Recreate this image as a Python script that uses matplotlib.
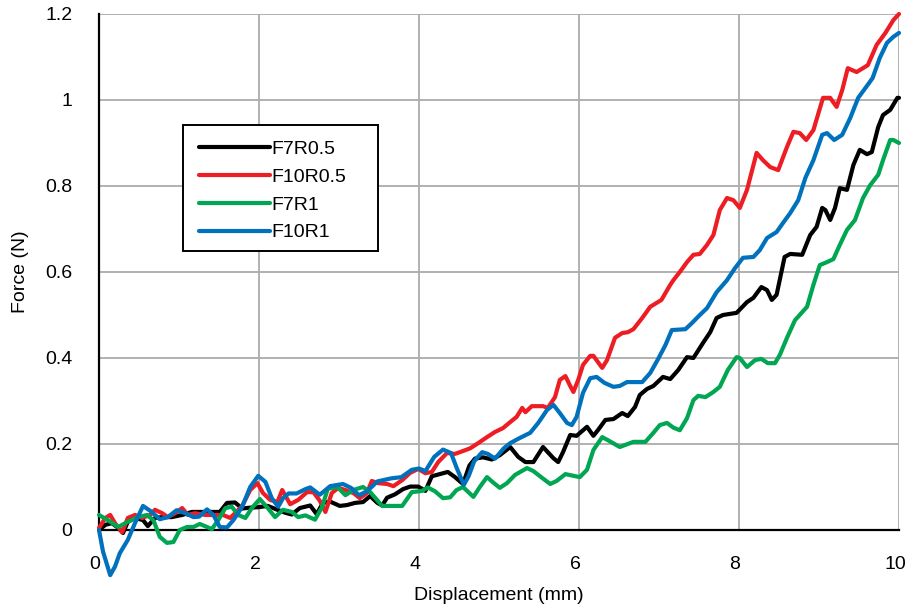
import matplotlib
matplotlib.use("Agg")
import matplotlib.pyplot as plt
import matplotlib.transforms as mtransforms
from matplotlib.patches import Rectangle

plt.rcParams['font.family'] = ['Liberation Sans', 'DejaVu Sans']

labels = ["F7R0.5", "F10R0.5", "F7R1", "F10R1"]
colors = ["#000000", "#EE1D24", "#00A651", "#0071BC"]

x_f7r05 = [0, 0.08, 0.16, 0.24, 0.3, 0.36, 0.45, 0.55, 0.61, 0.7, 0.79, 0.91, 1.04, 1.16, 1.29, 1.41, 1.51,
           1.6, 1.7, 1.79, 1.89, 1.99, 2.11, 2.23, 2.33, 2.41, 2.51, 2.64, 2.72, 2.8, 2.89, 3.01, 3.1, 3.2,
           3.3, 3.39, 3.48, 3.54, 3.6, 3.7, 3.8, 3.89, 3.99, 4.08, 4.16, 4.26, 4.36, 4.45, 4.55, 4.63, 4.7,
           4.8, 4.91, 5.01, 5.14, 5.24, 5.33, 5.43, 5.55, 5.61, 5.68, 5.74, 5.8, 5.89, 5.97, 6.1, 6.18, 6.24,
           6.33, 6.43, 6.54, 6.61, 6.7, 6.76, 6.85, 6.93, 7.05, 7.14, 7.24, 7.35, 7.43, 7.55, 7.64, 7.72, 7.8,
           7.97, 8.1, 8.18, 8.28, 8.35, 8.41, 8.47, 8.57, 8.64, 8.79, 8.89, 8.97, 9.04, 9.08, 9.14, 9.2, 9.26,
           9.35, 9.43, 9.51, 9.6, 9.66, 9.74, 9.8, 9.89, 9.98, 10.0]
y_f7r05 = [0, 0.012, 0.016, 0.005, -0.007, 0.019, 0.028, 0.023, 0.009, 0.028, 0.03, 0.03, 0.035, 0.042, 0.042,
           0.042, 0.042, 0.063, 0.064, 0.05, 0.052, 0.053, 0.056, 0.047, 0.04, 0.036, 0.051, 0.057, 0.037,
           0.063, 0.066, 0.056, 0.058, 0.063, 0.065, 0.079, 0.063, 0.057, 0.075, 0.083, 0.095, 0.101, 0.101,
           0.091, 0.125, 0.13, 0.135, 0.123, 0.107, 0.15, 0.166, 0.169, 0.164, 0.174, 0.193, 0.17, 0.158,
           0.158, 0.193, 0.181, 0.167, 0.158, 0.181, 0.221, 0.219, 0.24, 0.219, 0.233, 0.256, 0.258, 0.272,
           0.265, 0.286, 0.314, 0.328, 0.335, 0.356, 0.351, 0.372, 0.402, 0.4, 0.435, 0.46, 0.493, 0.5, 0.505,
           0.53, 0.54, 0.565, 0.558, 0.535, 0.547, 0.635, 0.642, 0.64, 0.686, 0.705, 0.749, 0.744, 0.721,
           0.749, 0.795, 0.791, 0.849, 0.884, 0.874, 0.879, 0.937, 0.965, 0.977, 1.005, 1.005]

x_f10r05 = [0, 0.08, 0.14, 0.2, 0.29, 0.36, 0.45, 0.54, 0.64, 0.7, 0.79, 0.86, 0.95, 1.04, 1.11, 1.2, 1.33,
            1.45, 1.55, 1.64, 1.7, 1.79, 1.89, 1.98, 2.05, 2.14, 2.23, 2.29, 2.39, 2.49, 2.6, 2.68, 2.76, 2.83,
            2.91, 2.99, 3.08, 3.18, 3.26, 3.35, 3.41, 3.49, 3.6, 3.68, 3.79, 3.89, 3.99, 4.08, 4.16, 4.24,
            4.35, 4.45, 4.54, 4.64, 4.74, 4.85, 4.95, 5.05, 5.14, 5.22, 5.29, 5.33, 5.41, 5.55, 5.61, 5.7,
            5.76, 5.83, 5.89, 5.93, 5.99, 6.05, 6.14, 6.18, 6.29, 6.35, 6.45, 6.54, 6.61, 6.68, 6.79, 6.89,
            7.03, 7.14, 7.18, 7.26, 7.35, 7.43, 7.51, 7.6, 7.68, 7.76, 7.85, 7.93, 8.01, 8.1, 8.22, 8.3, 8.39,
            8.49, 8.6, 8.68, 8.76, 8.84, 8.93, 9.05, 9.14, 9.22, 9.29, 9.36, 9.47, 9.61, 9.72, 9.83, 9.93, 10.0]
y_f10r05 = [0.005, 0.028, 0.035, 0.016, -0.005, 0.028, 0.035, 0.028, 0.035, 0.047, 0.039, 0.03, 0.039, 0.051,
            0.035, 0.039, 0.035, 0.035, 0.035, 0.028, 0.039, 0.056, 0.093, 0.109, 0.086, 0.07, 0.065, 0.093,
            0.06, 0.07, 0.088, 0.088, 0.068, 0.042, 0.086, 0.098, 0.093, 0.086, 0.074, 0.086, 0.114, 0.109,
            0.107, 0.102, 0.116, 0.133, 0.142, 0.132, 0.135, 0.158, 0.179, 0.177, 0.183, 0.19, 0.202, 0.216,
            0.228, 0.237, 0.251, 0.263, 0.284, 0.274, 0.288, 0.288, 0.284, 0.309, 0.349, 0.358, 0.335, 0.321,
            0.349, 0.384, 0.405, 0.405, 0.377, 0.395, 0.447, 0.458, 0.46, 0.467, 0.493, 0.519, 0.535, 0.57,
            0.581, 0.6, 0.623, 0.64, 0.642, 0.663, 0.686, 0.744, 0.772, 0.767, 0.749, 0.791, 0.877, 0.86,
            0.844, 0.837, 0.891, 0.926, 0.923, 0.907, 0.93, 1.005, 1.005, 0.984, 1.023, 1.074, 1.065, 1.081,
            1.128, 1.156, 1.186, 1.2]

x_f7r1 = [0, 0.11, 0.24, 0.36, 0.49, 0.6, 0.68, 0.76, 0.85, 0.93, 1.01, 1.1, 1.18, 1.26, 1.35, 1.41, 1.49,
          1.58, 1.66, 1.74, 1.83, 1.91, 2.01, 2.11, 2.2, 2.3, 2.41, 2.49, 2.58, 2.7, 2.79, 2.86, 2.98, 3.08,
          3.18, 3.3, 3.39, 3.54, 3.66, 3.79, 3.91, 4.04, 4.11, 4.2, 4.3, 4.39, 4.47, 4.55, 4.68, 4.76, 4.85,
          4.93, 5.01, 5.1, 5.2, 5.35, 5.43, 5.54, 5.64, 5.72, 5.83, 5.93, 6.01, 6.1, 6.18, 6.29, 6.36, 6.51,
          6.68, 6.83, 6.93, 7.01, 7.1, 7.18, 7.26, 7.35, 7.43, 7.49, 7.58, 7.68, 7.76, 7.86, 7.97, 8.01, 8.1,
          8.2, 8.28, 8.36, 8.45, 8.51, 8.6, 8.7, 8.85, 8.93, 9.01, 9.1, 9.18, 9.26, 9.35, 9.45, 9.55, 9.64,
          9.74, 9.8, 9.89, 9.93, 10.0]
y_f7r1 = [0.035, 0.023, 0.007, 0.019, 0.03, 0.035, 0.023, -0.016, -0.03, -0.028, 0.0, 0.007, 0.007, 0.014,
          0.007, 0.002, 0.023, 0.051, 0.054, 0.035, 0.028, 0.051, 0.072, 0.051, 0.03, 0.047, 0.042, 0.03,
          0.034, 0.024, 0.054, 0.096, 0.1, 0.081, 0.093, 0.1, 0.088, 0.056, 0.056, 0.056, 0.088, 0.091,
          0.099, 0.09, 0.074, 0.076, 0.093, 0.1, 0.077, 0.1, 0.123, 0.11, 0.098, 0.109, 0.128, 0.144, 0.137,
          0.121, 0.107, 0.114, 0.13, 0.126, 0.123, 0.14, 0.186, 0.216, 0.209, 0.193, 0.205, 0.205, 0.226,
          0.244, 0.249, 0.238, 0.232, 0.26, 0.302, 0.312, 0.309, 0.321, 0.333, 0.372, 0.402, 0.4, 0.379,
          0.395, 0.398, 0.388, 0.388, 0.407, 0.447, 0.488, 0.519, 0.57, 0.616, 0.623, 0.63, 0.663, 0.698,
          0.721, 0.772, 0.802, 0.826, 0.86, 0.907, 0.907, 0.9]

x_f10r1 = [0, 0.05, 0.14, 0.2, 0.26, 0.36, 0.45, 0.55, 0.66, 0.76, 0.86, 0.97, 1.08, 1.18, 1.25, 1.35, 1.43,
           1.51, 1.6, 1.68, 1.79, 1.89, 1.99, 2.08, 2.16, 2.24, 2.3, 2.37, 2.47, 2.58, 2.64, 2.76, 2.89, 3.05,
           3.15, 3.25, 3.35, 3.48, 3.65, 3.78, 3.91, 4.0, 4.08, 4.19, 4.3, 4.4, 4.47, 4.56, 4.62, 4.69, 4.79,
           4.86, 4.95, 5.06, 5.14, 5.26, 5.39, 5.49, 5.6, 5.68, 5.76, 5.85, 5.91, 5.97, 6.05, 6.14, 6.22,
           6.32, 6.43, 6.51, 6.6, 6.79, 6.89, 6.99, 7.08, 7.16, 7.33, 7.41, 7.51, 7.6, 7.72, 7.85, 7.95, 8.05,
           8.18, 8.26, 8.35, 8.47, 8.55, 8.64, 8.74, 8.83, 8.93, 9.04, 9.1, 9.19, 9.29, 9.39, 9.49, 9.6, 9.67,
           9.76, 9.85, 9.93, 10.0]
y_f10r1 = [0, -0.05, -0.105, -0.085, -0.054, -0.023, 0.016, 0.056, 0.042, 0.025, 0.03, 0.046, 0.039, 0.03,
           0.031, 0.048, 0.035, 0.007, 0.006, 0.023, 0.054, 0.1, 0.126, 0.112, 0.074, 0.054, 0.074, 0.085,
           0.085, 0.095, 0.099, 0.082, 0.102, 0.107, 0.098, 0.081, 0.09, 0.113, 0.12, 0.123, 0.14, 0.143,
           0.137, 0.17, 0.187, 0.179, 0.145, 0.105, 0.125, 0.16, 0.181, 0.177, 0.166, 0.19, 0.202, 0.214,
           0.226, 0.249, 0.279, 0.291, 0.272, 0.249, 0.244, 0.263, 0.319, 0.353, 0.356, 0.342, 0.333, 0.335,
           0.344, 0.344, 0.365, 0.398, 0.43, 0.465, 0.467, 0.481, 0.5, 0.516, 0.553, 0.581, 0.609, 0.633,
           0.635, 0.651, 0.679, 0.693, 0.714, 0.737, 0.767, 0.819, 0.86, 0.919, 0.923, 0.907, 0.919, 0.958,
           1.005, 1.033, 1.051, 1.098, 1.133, 1.147, 1.156]

x_ticks = [0, 2, 4, 6, 8, 10]
y_ticks = [0, 0.2, 0.4, 0.6, 0.8, 1.0, 1.2]
y_ticklabels = ["0", "0.2", "0.4", "0.6", "0.8", "1", "1.2"]

W, H = 908, 606
fig = plt.figure(figsize=(W / 100, H / 100), dpi=100)
ax = fig.add_axes([99 / W, (H - 530) / H, 800 / W, 516 / H])

series = [(x_f7r05, y_f7r05), (x_f10r05, y_f10r05), (x_f7r1, y_f7r1), (x_f10r1, y_f10r1)]
for (xs, ys), lab, col in zip(series, labels, colors):
    ax.plot(xs, ys, color=col, lw=3, label=lab, clip_on=False, solid_joinstyle='round',
            solid_capstyle='round', zorder=3)

ax.set_xlim(0, 10)
ax.set_ylim(0, 1.2)
ax.set_xticks(x_ticks)
ax.set_yticks(y_ticks)
ax.set_yticklabels(y_ticklabels)
ax.grid(True, color="#ABABAB", lw=1.3, zorder=0)
ax.set_axisbelow(True)
for s in ["top", "right"]:
    ax.spines[s].set_visible(False)
for s in ["left", "bottom"]:
    ax.spines[s].set_color("black")
    ax.spines[s].set_linewidth(1.6)
    ax.spines[s].set_zorder(2.5)
ax.tick_params(length=0, labelsize=14, pad=19, colors="black")

shift = mtransforms.ScaledTranslation(-4 / 100, 0, fig.dpi_scale_trans)
for lbl in ax.get_xticklabels():
    lbl.set_transform(lbl.get_transform() + shift)

ax.set_xlabel("Displacement (mm)", fontsize=14, labelpad=10)
ax.set_ylabel("Force (N)", fontsize=14, labelpad=12)

# legend frame drawn as a rectangle matching the reference box
box = Rectangle((183 / W, (H - 251) / H), (378 - 183) / W, (251 - 125) / H,
                transform=fig.transFigure, facecolor="white", edgecolor="black", lw=1.4,
                zorder=4, clip_on=False)
ax.add_artist(box)

leg = ax.legend(loc="upper left", bbox_to_anchor=((183 - 99) / 800, (530 - 125) / 516),
                fontsize=14, frameon=False,
                handlelength=3.65, handletextpad=0.12, labelspacing=0.52,
                borderpad=0.8, borderaxespad=0)
leg.set_zorder(5)
for line in leg.get_lines():
    line.set_linewidth(3)

fig.savefig("out.png", dpi=100, facecolor="white")
